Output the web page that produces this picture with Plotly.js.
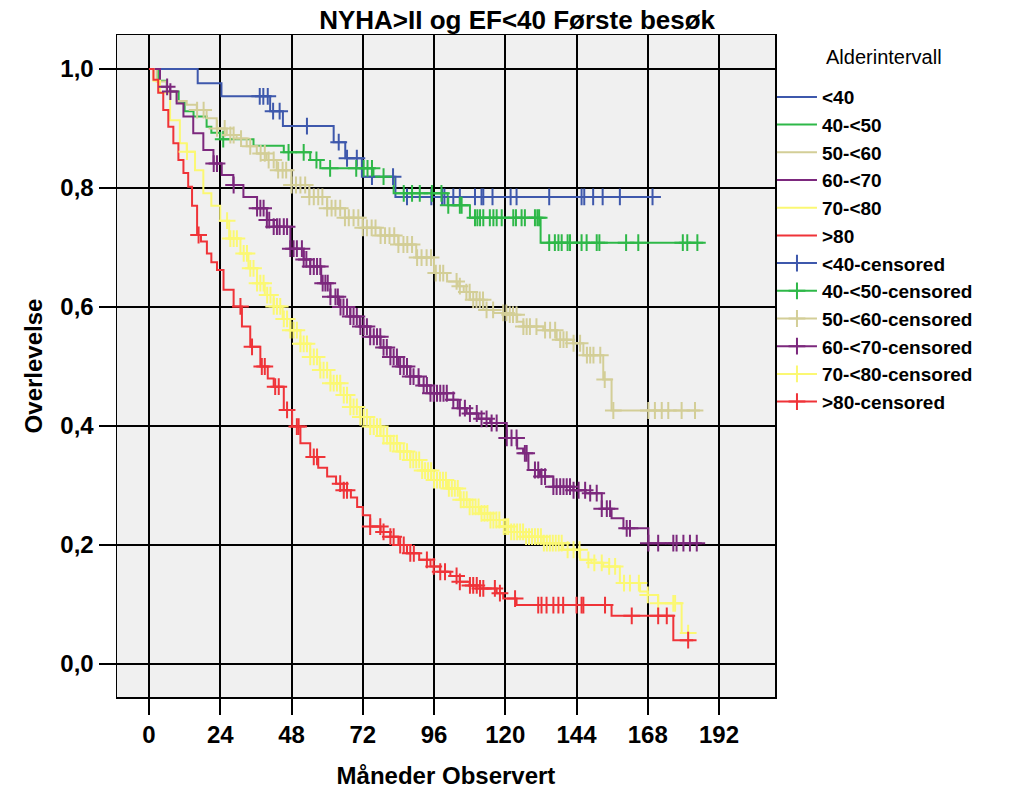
<!DOCTYPE html>
<html>
<head>
<meta charset="utf-8">
<script src="https://cdn.plot.ly/plotly-3.0.1.min.js"></script>
<style>html,body{margin:0;padding:0;background:#fff;}#chart{width:1024px;height:807px;}</style>
</head>
<body>
<div id="chart"></div>
<script>
// ---- Data ----
const groups = ['<40', '40-<50', '50-<60', '60-<70', '70-<80', '>80'];
const colors = ['#3E58AC', '#2EB848', '#D3CE97', '#7C287D', '#FBF873', '#EF3338'];
const xTicks = [0, 24, 48, 72, 96, 120, 144, 168, 192];
const yTicks = [0, 0.2, 0.4, 0.6, 0.8, 1.0];
const yTickText = ['0,0', '0,2', '0,4', '0,6', '0,8', '1,0'];

// <40
const g1_t = [0, 16.4, 24.4, 40.8, 45.1, 62.2, 66.1, 71.7, 83.0, 171.5];
const g1_s = [1.0, 0.976, 0.954, 0.929, 0.904, 0.877, 0.850, 0.819, 0.785, 0.785];
const g1_c = [37.3, 38.5, 40.0, 41.8, 44.0, 53.2, 63.9, 66.7, 70.0, 75.1, 82.2, 86.9, 95.1, 98.7, 99.5, 102.5, 104.7, 109.8, 112.0, 112.6, 115.7, 121.8, 123.8, 134.8, 145.7, 146.6, 149.6, 152.8, 158.6, 169.6];

// 40-<50
const g2_t = [0, 3, 6, 10, 12, 15, 19.4, 21, 24, 35.2, 45.4, 54.3, 57.7, 75.6, 82.4, 100.6, 108.1, 131.9, 186.7];
const g2_s = [1.0, 0.98, 0.962, 0.945, 0.929, 0.92, 0.903, 0.893, 0.882, 0.871, 0.860, 0.847, 0.833, 0.819, 0.791, 0.771, 0.750, 0.708, 0.708];
const g2_c = [25, 47, 52.1, 56.4, 61, 69.8, 72.3, 73.6, 75.1, 79, 85.8, 88.6, 91.2, 95.3, 98.5, 100.8, 104.7, 105.3, 109.8, 110.6, 111.5, 112.6, 114.8, 116, 117.1, 118.8, 122.7, 123.6, 125.5, 126.6, 130, 130.8, 131.4, 134.8, 136.7, 137.9, 139, 141, 141.8, 145.7, 147.4, 150.8, 151.7, 160.7, 164.8, 179.8, 181.3, 184.7];

// 50-<60
const g3_t = [0, 2.6, 6, 9.3, 12.7, 16.1, 19.4, 22.8, 26.2, 29.5, 32.9, 36.3, 39.6, 43, 48, 54, 60, 66, 72, 78, 84, 90, 96, 100.4, 104, 106, 108.1, 112.6, 116, 120.5, 124, 126.1, 132.8, 137.3, 142.9, 146.3, 153, 155.8, 185.6];
const g3_s = [1.0, 0.979, 0.962, 0.946, 0.94, 0.931, 0.917, 0.9, 0.889, 0.883, 0.87, 0.858, 0.847, 0.83, 0.805, 0.785, 0.766, 0.75, 0.733, 0.72, 0.705, 0.683, 0.657, 0.643, 0.635, 0.625, 0.612, 0.595, 0.59, 0.587, 0.575, 0.567, 0.561, 0.545, 0.539, 0.519, 0.478, 0.426, 0.426];
const g3_c = [16.2, 18.4, 22.9, 25.5, 27.4, 28.5, 31, 34.1, 37.6, 39, 40.3, 42, 43.5, 45, 46.2, 48, 49.5, 51, 52.6, 54, 55.5, 57, 58.4, 60, 61.5, 62.8, 64.4, 66, 67.3, 68.9, 70.5, 72, 73.4, 75, 76.3, 78, 79.5, 81, 82.6, 84, 85.7, 87, 88.6, 90.3, 91.8, 93.5, 95, 96.6, 98, 99.1, 103.6, 104.7, 106.9, 108, 109.2, 110.3, 111.4, 112.5, 113.7, 115.9, 119.3, 120.4, 121.5, 122.6, 123.8, 126.1, 127.2, 128.3, 130.5, 133.4, 135.1, 136.8, 138.5, 139.6, 140.7, 143, 145.2, 147.5, 148.6, 149.7, 152, 153.5, 156.4, 168.2, 170.4, 172.7, 174.9, 179.4, 183.9];

// 60-<70
const g4_t = [0, 3.7, 7.1, 9.3, 11.6, 14.9, 18.3, 21.7, 24.5, 28.4, 31.8, 36.4, 39.7, 42, 47.6, 52.1, 54.3, 58, 61.1, 64, 67.8, 71, 74.5, 78, 81.3, 84, 88, 91, 94.8, 100.4, 104, 107, 111, 114.9, 120.5, 124, 126, 127.8, 131.7, 136.2, 142.9, 147, 152.5, 155.8, 159.8, 168.2, 186.2];
const g4_s = [1.0, 0.97, 0.962, 0.942, 0.92, 0.892, 0.864, 0.841, 0.822, 0.805, 0.785, 0.766, 0.746, 0.735, 0.698, 0.68, 0.668, 0.64, 0.617, 0.6, 0.584, 0.567, 0.55, 0.532, 0.516, 0.5, 0.483, 0.468, 0.455, 0.444, 0.43, 0.421, 0.412, 0.405, 0.38, 0.362, 0.354, 0.326, 0.315, 0.298, 0.292, 0.287, 0.261, 0.245, 0.228, 0.203, 0.203];
const g4_c = [6.1, 7.2, 21.8, 22.9, 28.5, 36.4, 37.5, 38.6, 39.7, 40.5, 42, 43.1, 44, 45.4, 46.5, 47.6, 48.7, 49.8, 51.5, 52.1, 53, 54.3, 55.5, 56.6, 57.7, 58.5, 59.4, 60.2, 61.1, 62.8, 63.6, 64.5, 65.5, 66.7, 67.8, 68.9, 70, 71.2, 72.3, 73.4, 74.5, 75.7, 76.8, 77.9, 79, 80.1, 81.3, 82.4, 83.5, 84.6, 85.8, 86.9, 88, 89.1, 90.8, 92.5, 93.6, 94.8, 95.9, 97, 98.1, 99.2, 100.3, 102.5, 104.7, 106.4, 108.1, 110.4, 112, 113.7, 115.4, 117.1, 120.5, 122.1, 123.8, 126.6, 127.2, 130, 131.1, 132.2, 133.4, 136.2, 137.3, 138.5, 139.6, 140.7, 141.8, 143, 144.7, 146.9, 148.6, 150.8, 152.5, 154.2, 155.3, 160.9, 162, 168.2, 171.5, 176.6, 177.7, 180, 182.2, 184.5];

// 70-<80
const g5_t = [0, 1.5, 3.7, 7.1, 10.4, 12.7, 15.5, 18.3, 21, 24, 27, 30.8, 33.5, 36.4, 39, 42, 45, 47.6, 51, 54.3, 57.5, 61.1, 64.5, 67.8, 71, 74.5, 78, 81.3, 84.5, 88, 92, 95.9, 100.4, 104.7, 108, 111.5, 115, 118.2, 122, 126.1, 132.8, 139.5, 145.2, 149, 153, 158.6, 165.4, 168, 171.5, 179.4, 182.8];
const g5_s = [1.0, 0.98, 0.96, 0.914, 0.875, 0.861, 0.83, 0.791, 0.77, 0.745, 0.715, 0.69, 0.665, 0.64, 0.62, 0.601, 0.58, 0.561, 0.538, 0.516, 0.494, 0.472, 0.452, 0.432, 0.415, 0.399, 0.383, 0.371, 0.357, 0.343, 0.325, 0.309, 0.295, 0.276, 0.264, 0.253, 0.242, 0.231, 0.222, 0.214, 0.203, 0.192, 0.175, 0.17, 0.164, 0.136, 0.122, 0.116, 0.102, 0.052, 0.052];
const g5_c = [12.8, 26.3, 27.4, 28.5, 29.6, 31.9, 33, 34.1, 35.2, 36.4, 37.5, 38.6, 39.8, 40.9, 42, 43.1, 44.2, 45.4, 46.5, 47.6, 48.7, 49.8, 51, 52.1, 53.2, 54.3, 55.5, 56.6, 57.7, 58.8, 60, 61.1, 62.2, 63.3, 64.4, 65.6, 66.7, 67.8, 68.9, 70, 71.2, 72.3, 73.4, 74.5, 75.7, 76.8, 77.9, 79, 80.2, 81.3, 82.4, 83.5, 84.6, 85.8, 86.9, 88, 89, 90, 91, 92, 93, 94, 95, 96, 97, 98, 99, 100, 101, 102, 103, 104, 105, 106, 107, 108, 109, 110, 111, 112, 113, 114, 115, 116, 117, 118, 119.5, 120.3, 121, 122, 123, 124, 125, 126, 127, 128, 129, 130, 131, 132, 133, 134, 135, 136, 137, 138, 139, 141, 143, 145, 148, 150, 152.5, 155, 157, 160, 162, 165, 168, 171.5, 176.6, 177.2, 181.6];

// >80
const g6_t = [0, 1.5, 3.1, 4.8, 6.5, 8.2, 9.9, 11.6, 13.2, 14.5, 16.2, 17.5, 19.5, 21, 22.9, 25.1, 28.5, 31.3, 34.1, 37.5, 40, 42, 45.4, 48.2, 51, 54.3, 57, 60, 63, 65.6, 68, 70.1, 72, 74.5, 78, 81.3, 84, 86.9, 91, 94.8, 98, 101.5, 104.7, 108, 111.5, 117.1, 119.3, 123.8, 155.8, 176.6, 183.3];
const g6_s = [1.0, 0.982, 0.96, 0.931, 0.903, 0.875, 0.847, 0.825, 0.802, 0.77, 0.721, 0.71, 0.69, 0.675, 0.662, 0.629, 0.601, 0.567, 0.533, 0.5, 0.48, 0.466, 0.427, 0.399, 0.371, 0.348, 0.33, 0.315, 0.303, 0.292, 0.28, 0.264, 0.25, 0.231, 0.222, 0.214, 0.2, 0.186, 0.175, 0.164, 0.155, 0.148, 0.138, 0.132, 0.127, 0.119, 0.11, 0.099, 0.081, 0.040, 0.040];
const g6_c = [16.7, 30.8, 34.7, 38, 39, 42.5, 43.7, 46.5, 49.8, 50.4, 55.5, 56.6, 64.4, 65.6, 66.7, 74.5, 77.9, 79, 81.3, 82.4, 84.6, 85.8, 88, 89.2, 93.6, 95.9, 98.1, 99.7, 103.6, 104.7, 108.1, 109.2, 110.4, 111.5, 112.6, 116.5, 118.2, 123.3, 131.1, 132.2, 133.9, 136.2, 137.9, 139.5, 144, 145.7, 146.3, 153.6, 162.6, 171.5, 174.4, 181.6];

const curveT = [g1_t, g2_t, g3_t, g4_t, g5_t, g6_t];
const curveS = [g1_s, g2_s, g3_s, g4_s, g5_s, g6_s];
const censT = [g1_c, g2_c, g3_c, g4_c, g5_c, g6_c];

// ---- Build traces ----
function survAt(ts, ss, t) {
  let v = ss[0];
  for (let i = 0; i < ts.length; i++) { if (ts[i] <= t) v = ss[i]; }
  return v;
}

const FONT = 'Arial, "Liberation Sans", Helvetica, sans-serif';
const traces = [];
groups.forEach((g, i) => {
  traces.push({
    type: 'scatter', mode: 'lines', name: g,
    x: curveT[i], y: curveS[i],
    line: {shape: 'hv', color: colors[i], width: 2},
    hoverinfo: 'skip'
  });
});
groups.forEach((g, i) => {
  const cx = [], cy = [];
  censT[i].forEach(t => {
    cx.push(t, null);
    cy.push(survAt(curveT[i], curveS[i], t), null);
  });
  traces.push({
    type: 'scatter', mode: 'lines+markers', name: g + '-censored',
    x: cx, y: cy, connectgaps: false,
    line: {color: colors[i], width: 2},
    marker: {symbol: 'cross-thin', size: 12, color: colors[i], line: {color: colors[i], width: 2}},
    hoverinfo: 'skip'
  });
});

const layout = {
  width: 1024, height: 807,
  margin: {l: 117, r: 249, t: 35, b: 110, pad: 0},
  paper_bgcolor: '#ffffff',
  plot_bgcolor: '#f0f0f0',
  font: {family: FONT, color: '#000'},
  title: {
    text: 'NYHA>II og EF<40 Første besøk',
    font: {family: FONT, size: 26, weight: 700, color: '#000'},
    xref: 'container', x: 0.505, xanchor: 'center',
    yref: 'container', y: 1 - 20 / 807, yanchor: 'middle'
  },
  xaxis: {
    range: [-10.78, 210.85],
    tickmode: 'array', tickvals: xTicks, ticktext: xTicks.map(String),
    ticks: 'outside', ticklen: 16, tickwidth: 2, tickcolor: '#000',
    showgrid: true, gridcolor: '#000', gridwidth: 2, zeroline: false,
    showline: true, mirror: true, linecolor: '#000', linewidth: 1.5,
    tickfont: {family: FONT, size: 24, weight: 700, color: '#000'},
    title: {text: 'Måneder Observert', font: {family: FONT, size: 24, weight: 700, color: '#000'}, standoff: 20}
  },
  yaxis: {
    range: [-0.0555, 1.0571],
    tickmode: 'array', tickvals: yTicks, ticktext: yTickText,
    ticks: 'outside', ticklen: 17, tickwidth: 2, tickcolor: '#000',
    showgrid: true, gridcolor: '#000', gridwidth: 2, zeroline: false,
    showline: true, mirror: true, linecolor: '#000', linewidth: 1.5,
    tickfont: {family: FONT, size: 24, weight: 700, color: '#000'},
    title: {text: 'Overlevelse', font: {family: FONT, size: 24, weight: 700, color: '#000'}, standoff: 11}
  },
  showlegend: true,
  legend: {
    x: 0.9954, xanchor: 'left', y: 0.935, yanchor: 'top',
    font: {family: FONT, size: 19, weight: 700, color: '#000'},
    bgcolor: 'rgba(0,0,0,0)', borderwidth: 0, itemwidth: 40,
    traceorder: 'normal'
  },
  annotations: [{
    text: 'Alderintervall', showarrow: false,
    xref: 'paper', yref: 'paper', x: 1.0745, y: 0.9668,
    xanchor: 'left', yanchor: 'middle',
    font: {family: FONT, size: 20, color: '#000'}
  }]
};

Plotly.newPlot('chart', traces, layout, {staticPlot: true, displayModeBar: false});
</script>
</body>
</html>
